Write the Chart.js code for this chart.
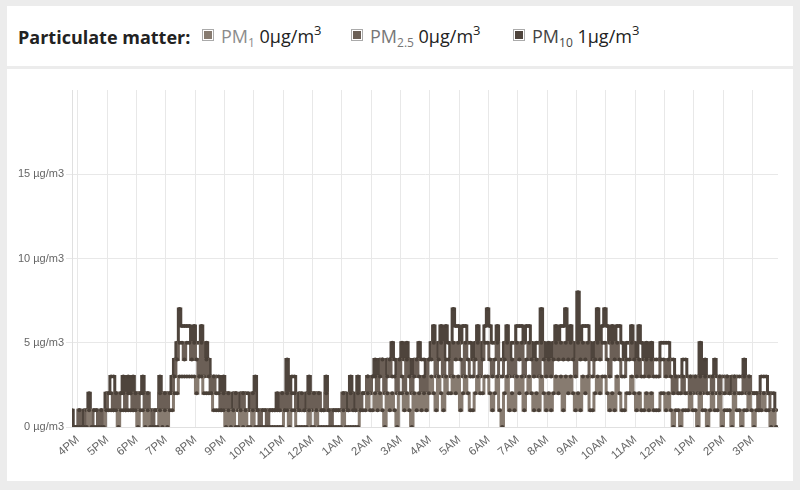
<!DOCTYPE html>
<html>
<head>
<meta charset="utf-8">
<script src="https://cdn.jsdelivr.net/npm/chart.js@4"></script>
<style>
  body { margin: 0; background: #ececec; width: 800px; height: 490px; overflow: hidden; font-family: "Open Sans", "Noto Sans", sans-serif; }
  .card { position: absolute; left: 7px; width: 786px; background: #fff; }
  #head { top: 6px; height: 60px; }
  #body { top: 69px; height: 412px; }
  .title { position: absolute; left: 11px; top: 19px; font-size: 18px; font-weight: 700; color: #222; }
  .item { position: absolute; top: 18px; font-size: 18px; color: #222; white-space: nowrap; }
  .box { display: inline-block; width: 8px; height: 8px; border: 1px solid #aaa; padding: 1px; margin-right: 7px; vertical-align: 2px; }
  .box i { display: block; width: 8px; height: 8px; }
  .item sub { font-size: 12px; vertical-align: -4px; line-height: 0; }
  .item sup { font-size: 13px; vertical-align: 8px; line-height: 0; }
</style>
</head>
<body>
<div class="card" id="head">
  <div class="title">Particulate matter:</div>
  <div class="item" id="leg0" style="left:195px"></div>
  <div class="item" id="leg1" style="left:344px"></div>
  <div class="item" id="leg2" style="left:506px"></div>
</div>
<div class="card" id="body"><canvas id="pmChart" width="786" height="412"></canvas></div>
<script>
// minutes after 15:48, one sample every 5 minutes
const startMinute = 0;
const stepMinutes = 5;
const hourLabels = ['4PM','5PM','6PM','7PM','8PM','9PM','10PM','11PM','12AM','1AM','2AM','3AM',
  '4AM','5AM','6AM','7AM','8AM','9AM','10AM','11AM','12PM','1PM','2PM','3PM'];
const hourTicks = [12,72,132,192,252,312,372,432,492,552,612,672,732,792,852,912,972,1032,1092,1152,1212,1272,1332,1392];

const pm10Values = [
  1,0,0,1,0,1,1,2,0,1,1,0,
  1,0,2,2,3,3,2,1,2,3,2,3,
  2,3,2,2,2,3,2,2,1,1,1,1,
  3,2,2,2,2,3,4,5,7,6,6,6,
  6,5,6,5,5,6,4,5,4,3,3,3,
  3,2,3,2,2,1,2,2,1,2,2,2,
  2,1,2,3,1,1,1,1,1,1,1,1,
  2,1,2,1,4,2,3,3,1,2,1,1,
  2,3,2,2,2,2,1,1,3,1,1,1,
  1,1,1,2,2,1,3,2,1,3,1,2,
  2,3,2,3,4,3,4,4,3,4,4,5,
  4,3,4,5,4,5,4,3,4,4,5,4,
  4,3,4,5,6,4,5,6,4,6,5,4,
  7,6,6,5,6,6,5,5,4,5,6,4,
  5,6,7,6,5,5,6,4,4,5,6,4,
  5,5,6,6,6,5,6,6,5,4,5,5,
  7,5,4,5,4,5,6,5,6,6,7,5,
  6,5,4,8,5,6,6,6,5,4,5,7,
  5,6,7,6,5,6,5,6,6,5,4,5,
  5,6,5,4,6,5,4,5,4,5,4,4,
  4,5,5,5,5,4,4,3,3,3,4,4,
  3,3,3,3,3,5,3,4,3,3,3,4,
  3,3,3,3,3,2,3,3,3,3,3,4,
  3,3,2,2,2,2,3,3,3,2,2,2,
  1
];
const pm25Values = [
  0,0,0,1,0,0,1,1,0,1,1,0,
  1,0,1,2,2,1,2,1,2,2,1,2,
  2,1,2,1,2,2,1,2,1,0,1,1,
  2,1,2,1,2,2,3,4,5,5,4,5,
  5,4,5,4,3,5,3,4,3,2,3,2,
  2,1,2,1,2,1,1,2,1,1,2,1,
  1,1,2,1,1,0,1,1,0,1,1,1,
  1,1,2,1,2,1,2,2,1,1,2,1,
  1,2,1,2,1,2,1,1,2,1,0,1,
  1,1,1,2,1,1,2,1,1,2,1,2,
  2,3,2,3,3,2,3,4,2,3,4,3,
  3,2,4,3,2,4,3,2,3,4,3,2,
  3,2,4,4,5,3,4,5,3,4,4,3,
  5,4,5,4,3,5,4,3,3,4,5,3,
  4,5,5,4,3,4,5,3,3,4,5,3,
  4,3,5,4,5,3,4,5,4,3,4,3,
  5,4,3,4,3,4,5,4,5,4,5,4,
  5,4,3,5,4,5,4,5,3,3,4,5,
  4,5,5,4,3,5,4,5,4,3,3,4,
  4,5,4,3,4,3,3,4,3,4,3,3,
  3,4,4,3,4,3,2,3,2,2,3,2,
  2,3,2,3,2,3,2,3,2,2,3,2,
  2,3,2,2,3,2,2,3,2,2,2,3,
  2,3,2,2,2,1,2,2,2,2,1,1,
  0
];
const pm1Values = [
  0,0,0,0,0,0,0,1,0,0,0,0,
  0,0,1,1,1,1,1,0,1,1,1,1,
  1,1,1,0,1,1,0,1,0,0,0,0,
  1,0,1,0,1,1,2,2,3,3,3,3,
  3,3,3,2,3,3,2,2,2,2,1,1,
  1,1,1,0,1,0,1,0,0,1,0,1,
  0,0,1,0,0,0,0,0,0,0,0,0,
  0,0,0,1,1,0,1,1,0,0,0,0,
  0,1,0,0,1,0,0,0,0,0,0,0,
  0,0,0,1,0,0,0,0,0,0,1,1,
  1,2,1,1,2,1,2,1,0,2,1,2,
  1,0,2,2,1,2,1,0,2,1,2,1,
  2,1,2,3,2,1,3,2,1,3,2,2,
  3,2,3,1,2,3,2,1,1,2,3,2,
  2,3,3,2,1,2,3,1,0,2,3,1,
  2,1,3,2,3,1,2,3,2,1,2,1,
  3,2,1,2,1,2,3,2,3,1,3,2,
  3,2,1,2,1,3,2,3,1,1,2,3,
  2,3,3,2,1,2,1,3,2,1,1,2,
  2,3,2,1,2,1,1,2,1,2,1,1,
  1,2,2,1,2,1,0,1,1,0,1,1,
  1,2,1,1,0,2,1,1,0,1,2,1,
  1,2,0,1,1,1,0,2,1,1,0,1,
  1,2,1,0,1,1,1,2,1,1,0,1,
  0
];

const seriesNames = ['PM<sub>1</sub>', 'PM<sub>2.5</sub>', 'PM<sub>10</sub>'];
const seriesColors = ['#877b70', '#6b5f56', '#4e443c'];
const labelColors = ['#8c8c8c', '#777777', '#444444'];

const toPoints = vals => vals.map((v, i) => ({ x: startMinute + i * stepMinutes, y: v }));
const allSeries = [pm1Values, pm25Values, pm10Values];

allSeries.forEach((vals, k) => {
  document.getElementById('leg' + k).innerHTML =
    `<span class="box"><i style="background:${seriesColors[k]}"></i></span>` +
    `<span style="color:${labelColors[k]}">${seriesNames[k]}</span> ${vals[vals.length - 1]}µg/m<sup>3</sup>`;
});

new Chart(document.getElementById('pmChart'), {
  type: 'line',
  data: {
    datasets: allSeries.map((vals, k) => ({
      data: toPoints(vals),
      borderColor: seriesColors[k],
      backgroundColor: seriesColors[k],
      borderWidth: 3,
      pointRadius: 2,
      pointBorderWidth: 0,
      pointBackgroundColor: '#4a4038',
      stepped: 'middle',
      fill: false
    }))
  },
  options: {
    responsive: false,
    animation: false,
    layout: { padding: { top: 21, right: 15, left: 0, bottom: 0 } },
    plugins: { legend: { display: false }, tooltip: { enabled: false } },
    scales: {
      x: {
        type: 'linear',
        min: 0,
        max: 1444,
        afterBuildTicks: s => { s.ticks = hourTicks.map(v => ({ value: v })); },
        afterFit: s => { s.height = 54; },
        ticks: {
          minRotation: 40,
          maxRotation: 40,
          padding: 6,
          color: '#666',
          font: { family: 'Liberation Sans', size: 11.5 },
          callback: v => hourLabels[hourTicks.indexOf(v)]
        },
        grid: { color: '#e8e8e8', drawTicks: false },
        border: { color: '#e0e0e0' }
      },
      y: {
        min: 0,
        max: 20,
        afterBuildTicks: s => { s.ticks = [0, 5, 10, 15].map(v => ({ value: v })); },
        afterFit: s => { s.width = 65; },
        ticks: {
          color: '#666',
          font: { family: 'Liberation Sans', size: 11 },
          padding: 2,
          callback: v => v + ' µg/m3'
        },
        grid: { color: '#e8e8e8', tickLength: 6 },
        border: { color: '#e0e0e0' }
      }
    }
  }
});
</script>
</body>
</html>
